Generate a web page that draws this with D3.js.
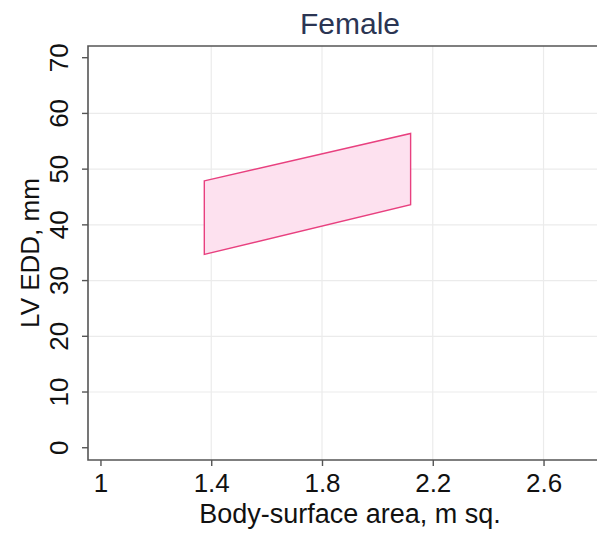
<!DOCTYPE html>
<html>
<head>
<meta charset="utf-8">
<script src="https://cdn.jsdelivr.net/npm/d3@7"></script>
<style>
  body { margin: 0; background: #fff; }
  text { font-family: "Liberation Sans", Arial, sans-serif; }
</style>
</head>
<body>
<svg id="chart" width="597" height="533"></svg>
<script>
// band corners (body-surface area, LV EDD)
const bsaPoints = [1.375, 2.12, 2.12, 1.375];
const eddPoints = [47.9, 56.4, 43.6, 34.7];
const xTicks = [1, 1.4, 1.8, 2.2, 2.6];
const yTicks = [0, 10, 20, 30, 40, 50, 60, 70];
const chartTitle = 'Female';
const xTitle = 'Body-surface area, m sq.';
const yTitle = 'LV EDD, mm';

const plotLeft = 88, plotTop = 46, plotBottom = 460, plotRight = 610;

const svg = d3.select('#chart');

const x = d3.scaleLinear().domain([0.955, 2.84]).range([plotLeft, plotRight]);
const y = d3.scaleLinear().domain([-2.2, 72.1]).range([plotBottom, plotTop]);

// grid
svg.append('g')
  .selectAll('line')
  .data(xTicks.slice(1))
  .enter().append('line')
  .attr('x1', d => x(d)).attr('x2', d => x(d))
  .attr('y1', plotTop).attr('y2', plotBottom)
  .attr('stroke', '#ebebeb').attr('stroke-width', 1.2);

svg.append('g')
  .selectAll('line')
  .data(yTicks.slice(1, -1))
  .enter().append('line')
  .attr('y1', d => y(d)).attr('y2', d => y(d))
  .attr('x1', plotLeft).attr('x2', plotRight)
  .attr('stroke', '#ebebeb').attr('stroke-width', 1.2);

// band
const pts = bsaPoints.map((b, i) => [x(b), y(eddPoints[i])]);
svg.append('path')
  .attr('d', d3.line()(pts) + 'Z')
  .attr('fill', '#fde1ef')
  .attr('stroke', '#e8407f')
  .attr('stroke-width', 1.4);

// frame
svg.append('path')
  .attr('d', `M${plotRight},${plotTop}H${plotLeft}V${plotBottom}H${plotRight}`)
  .attr('fill', 'none')
  .attr('stroke', '#555')
  .attr('stroke-width', 1.6);

// x axis
const xAxis = svg.append('g')
  .attr('transform', `translate(0,${plotBottom})`)
  .call(d3.axisBottom(x).tickValues(xTicks).tickFormat(d3.format('')).tickSize(6).tickPadding(6));
xAxis.select('.domain').remove();
xAxis.selectAll('line').attr('stroke', '#555').attr('stroke-width', 1.4);
xAxis.selectAll('text')
  .attr('font-size', 26).attr('fill', '#111')
  .attr('dy', null).attr('y', 32);

// y axis
const yAxis = svg.append('g')
  .attr('transform', `translate(${plotLeft},0)`)
  .call(d3.axisLeft(y).tickValues(yTicks).tickSize(6).tickPadding(0));
yAxis.select('.domain').remove();
yAxis.selectAll('line').attr('stroke', '#555').attr('stroke-width', 1.4);
yAxis.selectAll('.tick').attr('transform', null);
yAxis.selectAll('.tick line').attr('transform', d => `translate(0,${y(d)})`);
yAxis.selectAll('text')
  .attr('font-size', 26).attr('fill', '#111')
  .attr('x', null).attr('dy', null).attr('y', 0)
  .attr('text-anchor', 'middle')
  .attr('transform', d => `translate(-20,${y(d)}) rotate(-90)`);

// titles
svg.append('text')
  .attr('x', 350).attr('y', 34)
  .attr('text-anchor', 'middle')
  .attr('font-size', 30).attr('fill', '#2b3553')
  .text(chartTitle);

svg.append('text')
  .attr('x', 350).attr('y', 523)
  .attr('text-anchor', 'middle')
  .attr('font-size', 27).attr('fill', '#111')
  .text(xTitle);

svg.append('text')
  .attr('transform', `translate(39,${(plotTop + plotBottom) / 2}) rotate(-90)`)
  .attr('text-anchor', 'middle')
  .attr('font-size', 26).attr('fill', '#111')
  .text(yTitle);
</script>
</body>
</html>
